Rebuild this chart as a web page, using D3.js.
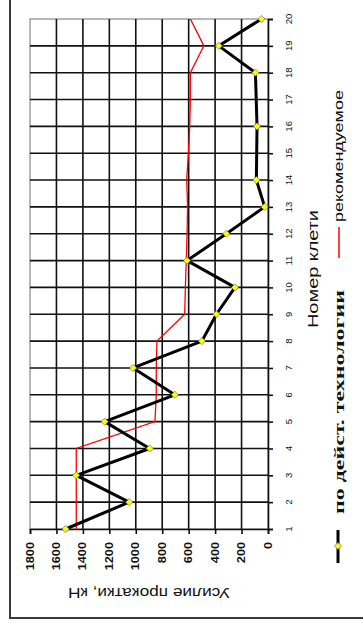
<!DOCTYPE html>
<html>
<head>
<meta charset="utf-8">
<script src="https://cdn.jsdelivr.net/npm/d3@7"></script>
<style>
  html, body { margin: 0; padding: 0; background: #fff; }
  svg { display: block; }
</style>
</head>
<body>
<svg id="chart" width="363" height="626"></svg>
<script>
// ---- data ----
const categories = [1,2,3,4,5,6,7,8,9,10,11,12,13,14,15,16,17,18,19,20];
const actualValues = [1530,1050,1450,895,1235,705,1020,500,390,250,612,315,25,88,null,83,null,95,372,50];
const recommendedValues = [1450,1450,1450,1450,855,845,845,840,630,625,618,612,608,615,602,592,587,587,485,587];
const valueTicks = [0,200,400,600,800,1000,1200,1400,1600,1800];
const seriesNames = ["по дейст. технологии", "рекомендуемое"];
const valueTitle = "Усилие прокатки, кН";
const categoryTitle = "Номер клети";

// ---- layout (chart is drawn rotated 90° counter-clockwise) ----
const svg = d3.select("#chart");
const plot = { left: 30, right: 268, top: 19, bottom: 529 };

const y = d3.scaleLinear().domain([1, 20]).range([plot.bottom, plot.top]);
const x = d3.scaleLinear().domain([0, 1800]).range([plot.right, plot.left]);

// outer frame
svg.append("rect")
  .attr("x", 10).attr("y", -10).attr("width", 420).attr("height", 628)
  .attr("fill", "#fff").attr("stroke", "#3a3a3a").attr("stroke-width", 2);

// plot border
svg.append("rect")
  .attr("x", plot.left).attr("y", plot.top)
  .attr("width", plot.right - plot.left).attr("height", plot.bottom - plot.top)
  .attr("fill", "#fff").attr("stroke", "#a0a0a0").attr("stroke-width", 1.5);

// gridlines
const grid = svg.append("g");
grid.selectAll("line.vg")
  .data(valueTicks.filter(v => v > 0 && v < 1800))
  .join("line")
  .attr("x1", d => x(d)).attr("x2", d => x(d))
  .attr("y1", plot.top).attr("y2", plot.bottom)
  .attr("stroke", "#111").attr("stroke-width", 1.6);
grid.selectAll("line.hg")
  .data(categories.filter(c => c > 1 && c < 20))
  .join("line")
  .attr("y1", d => y(d)).attr("y2", d => y(d))
  .attr("x1", plot.left).attr("x2", plot.right)
  .attr("stroke", "#111").attr("stroke-width", 1.6);

// category axis (right side)
const catAxis = svg.append("g")
  .attr("transform", `translate(${plot.right},0)`)
  .call(d3.axisRight(y).tickValues(categories).tickSize(5).tickFormat(""));
catAxis.select(".domain").attr("stroke", "#111").attr("stroke-width", 1.6);
catAxis.selectAll(".tick line").attr("stroke", "#111").attr("stroke-width", 1.6);

svg.append("g").selectAll("text")
  .data(categories)
  .join("text")
  .attr("transform", d => `translate(292,${y(d)}) rotate(-90)`)
  .attr("text-anchor", "middle")
  .attr("font-family", "'Liberation Sans', Arial, sans-serif")
  .attr("font-size", 9.5)
  .attr("fill", "#111")
  .text(d => d);

// value axis (bottom)
const valAxis = svg.append("g")
  .attr("transform", `translate(0,${plot.bottom})`)
  .call(d3.axisBottom(x).tickValues(valueTicks).tickSize(5).tickFormat(""));
valAxis.select(".domain").attr("stroke", "#111").attr("stroke-width", 1.6);
valAxis.selectAll(".tick line").attr("stroke", "#111").attr("stroke-width", 1.6);

svg.append("g").selectAll("text")
  .data(valueTicks)
  .join("text")
  .attr("transform", d => `translate(${x(d) + 3.6},542) rotate(-90) scale(1.27,1)`)
  .attr("text-anchor", "end")
  .attr("font-family", "'Liberation Sans', Arial, sans-serif")
  .attr("font-weight", "bold")
  .attr("font-size", 10)
  .attr("fill", "#111")
  .text(d => d);

// axis titles
svg.append("text")
  .attr("transform", "translate(149,588) rotate(180)")
  .attr("text-anchor", "middle")
  .attr("font-family", "'Liberation Sans', Arial, sans-serif")
  .attr("font-size", 15)
  .attr("textLength", 162).attr("lengthAdjust", "spacingAndGlyphs")
  .attr("fill", "#111")
  .text(valueTitle);

svg.append("text")
  .attr("transform", "translate(318,269) rotate(-90)")
  .attr("text-anchor", "middle")
  .attr("font-family", "'Liberation Sans', Arial, sans-serif")
  .attr("font-size", 14)
  .attr("textLength", 118).attr("lengthAdjust", "spacingAndGlyphs")
  .attr("fill", "#111")
  .text(categoryTitle);

// series
const recData = categories.map((c, i) => ({ c, v: recommendedValues[i] })).filter(d => d.v != null);
const actData = categories.map((c, i) => ({ c, v: actualValues[i] })).filter(d => d.v != null);

const line = d3.line().x(d => x(d.v)).y(d => y(d.c));

svg.append("path")
  .datum(recData)
  .attr("d", line)
  .attr("fill", "none")
  .attr("stroke", "#ff0000")
  .attr("stroke-width", 1.3);

svg.append("path")
  .datum(actData)
  .attr("d", line)
  .attr("fill", "none")
  .attr("stroke", "#000")
  .attr("stroke-width", 3)
  .attr("stroke-linejoin", "round");

const marker = d3.symbol().type(d3.symbolSquare).size(26);
svg.append("g").selectAll("path")
  .data(actData)
  .join("path")
  .attr("d", marker)
  .attr("transform", d => `translate(${x(d.v)},${y(d.c)}) rotate(45)`)
  .attr("fill", "#ffff00")
  .attr("stroke", "#666")
  .attr("stroke-width", 0.6);

// legend
const legend = svg.append("g");
legend.append("line")
  .attr("x1", 338).attr("x2", 338).attr("y1", 530).attr("y2", 563)
  .attr("stroke", "#000").attr("stroke-width", 3);
legend.append("path")
  .attr("d", marker)
  .attr("transform", "translate(338,546) rotate(45)")
  .attr("fill", "#ffff00").attr("stroke", "#666").attr("stroke-width", 0.6);
legend.append("text")
  .attr("transform", "translate(344,514) rotate(-90)")
  .attr("text-anchor", "start")
  .attr("font-family", "'Liberation Serif', 'Times New Roman', serif")
  .attr("font-weight", "bold")
  .attr("font-size", 15)
  .attr("textLength", 224).attr("lengthAdjust", "spacingAndGlyphs")
  .attr("fill", "#111")
  .text(seriesNames[0]);

legend.append("line")
  .attr("x1", 339).attr("x2", 339).attr("y1", 227).attr("y2", 258)
  .attr("stroke", "#ff0000").attr("stroke-width", 1.5);
legend.append("text")
  .attr("transform", "translate(343,222) rotate(-90)")
  .attr("text-anchor", "start")
  .attr("font-family", "'Liberation Sans', Arial, sans-serif")
  .attr("font-size", 12)
  .attr("textLength", 132).attr("lengthAdjust", "spacingAndGlyphs")
  .attr("fill", "#111")
  .text(seriesNames[1]);
</script>
</body>
</html>
